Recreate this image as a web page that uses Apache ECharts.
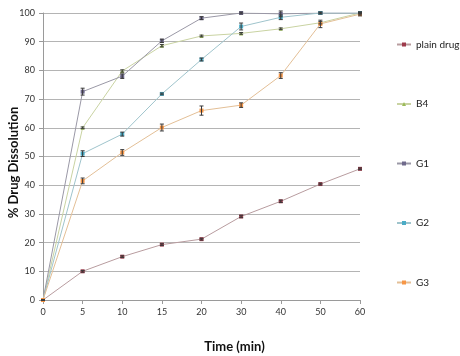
<!DOCTYPE html>
<html>
<head>
<meta charset="utf-8">
<script src="https://cdn.jsdelivr.net/npm/echarts@6/dist/echarts.min.js"></script>
<style>
  html, body { margin: 0; padding: 0; background: #fff; }
  #chart { width: 460px; height: 356px; }
</style>
</head>
<body>
<div id="chart"></div>
<script>
// time points (min)
const timePoints = ['0', '5', '10', '15', '20', '30', '40', '50', '60'];

const plainDrug = [0, 10.0, 15.1, 19.3, 21.2, 29.1, 34.4, 40.4, 45.7];
const b4 = [0, 60.0, 79.8, 88.6, 92.0, 92.9, 94.5, 96.6, 100];
const g1 = [0, 72.6, 78.0, 90.3, 98.2, 100, 99.7, 100, 100];
const g2 = [0, 51.0, 57.8, 71.8, 83.8, 95.3, 98.5, 100, 100];
const g3 = [0, 41.5, 51.4, 60.1, 66.0, 67.9, 78.2, 96.2, 99.6];

// standard deviation for error bars
const plainDrugErr = [0, 0.3, 0.3, 0.3, 0.3, 0.4, 0.4, 0.3, 0.3];
const b4Err = [0, 0.3, 0.4, 0.4, 0.3, 0.3, 0.3, 0.4, 0.3];
const g1Err = [0, 1.2, 0.8, 0.6, 0.5, 0.3, 1.0, 0.3, 0.3];
const g2Err = [0, 1.0, 0.7, 0.3, 0.5, 1.2, 0.8, 0.3, 0.3];
const g3Err = [0, 1.0, 1.0, 1.2, 1.6, 0.8, 1.0, 1.3, 0.6];

const seriesNames = ['plain drug', 'B4', 'G1', 'G2', 'G3'];
const seriesValues = [plainDrug, b4, g1, g2, g3];
const seriesErrors = [plainDrugErr, b4Err, g1Err, g2Err, g3Err];
const markerColors = ['#9e3a4b', '#9bbb59', '#6f6a8c', '#4bacc6', '#f79646'];
const lineColors = ['#b89c9f', '#c9d3a2', '#9a98a6', '#9fc4cc', '#e3bf96'];
const symbols = ['rect', 'triangle', 'rect', 'rect', 'rect'];

const chart = echarts.init(document.getElementById('chart'));

const lineSeries = seriesNames.map((name, i) => ({
  name: name,
  type: 'line',
  data: seriesValues[i],
  symbol: symbols[i],
  symbolSize: 4,
  showSymbol: true,
  z: 2,
  itemStyle: { color: markerColors[i] },
  lineStyle: { color: lineColors[i], width: 1 }
}));

const errorSeries = seriesNames.map((name, i) => ({
  type: 'custom',
  name: name + ' err',
  z: 3,
  silent: true,
  data: seriesValues[i].map((v, k) => [k, v - seriesErrors[i][k], v + seriesErrors[i][k]]),
  renderItem: function (params, api) {
    const lo = api.coord([api.value(0), api.value(1)]);
    const hi = api.coord([api.value(0), api.value(2)]);
    const w = 2;
    const style = { stroke: '#3a3a3a', lineWidth: 1 };
    return {
      type: 'group',
      children: [
        { type: 'line', shape: { x1: hi[0], y1: hi[1], x2: lo[0], y2: lo[1] }, style: style },
        { type: 'line', shape: { x1: hi[0] - w, y1: hi[1], x2: hi[0] + w, y2: hi[1] }, style: style },
        { type: 'line', shape: { x1: lo[0] - w, y1: lo[1], x2: lo[0] + w, y2: lo[1] }, style: style }
      ]
    };
  }
}));

chart.setOption({
  animation: false,
  textStyle: { fontFamily: 'Lato' },
  grid: { left: 43, right: 100, top: 13, bottom: 56, outerBoundsMode: 'none' },
  legend: {
    orient: 'vertical',
    left: 391,
    top: 34.5,
    itemGap: 49.5,
    itemWidth: 14,
    itemHeight: 5,
    data: seriesNames,
    textStyle: { fontSize: 10, color: '#222', fontFamily: 'Lato' }
  },
  xAxis: {
    type: 'category',
    data: timePoints,
    boundaryGap: false,
    name: 'Time (min)',
    nameLocation: 'middle',
    nameGap: 40,
    nameTextStyle: { fontSize: 13, fontWeight: 'bold', color: '#111', padding: [0, 0, 0, 66] },
    axisLine: { lineStyle: { color: '#9a9a9a' } },
    axisTick: { show: true, alignWithLabel: true, length: 4, lineStyle: { color: '#9a9a9a' } },
    axisLabel: { fontSize: 9, color: '#333', margin: 8 },
    splitLine: { show: false }
  },
  yAxis: {
    type: 'value',
    min: 0,
    max: 100,
    interval: 10,
    name: '% Drug Dissolution',
    nameLocation: 'middle',
    nameGap: 23,
    nameMoveOverlap: false,
    nameTextStyle: { fontSize: 13, fontWeight: 'bold', color: '#111', padding: [0, 12, 0, 0] },
    axisLine: { show: true, lineStyle: { color: '#9a9a9a' } },
    axisTick: { show: true, length: 4, lineStyle: { color: '#9a9a9a' } },
    axisLabel: { fontSize: 9, color: '#333', margin: 8 },
    splitLine: { lineStyle: { color: '#b4b4b4', width: 1 } }
  },
  series: lineSeries.concat(errorSeries)
});
</script>
</body>
</html>
